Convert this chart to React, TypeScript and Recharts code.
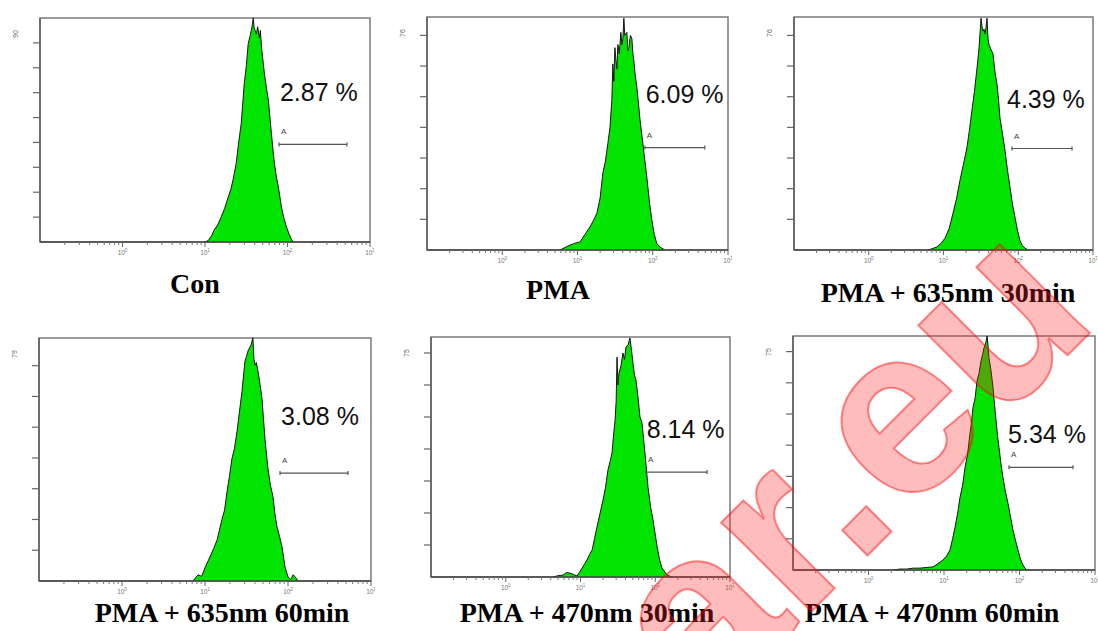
import React from "react";
import {
  ComposedChart,
  Area,
  XAxis,
  YAxis,
  ReferenceArea,
  ReferenceLine,
  ReferenceDot,
} from "recharts";

// ---------------- DATA ----------------
const titles = [
  "Con",
  "PMA",
  "PMA + 635nm 30min",
  "PMA + 635nm 60min",
  "PMA + 470nm 30min",
  "PMA + 470nm 60min",
];
const percentLabels = ["2.87 %", "6.09 %", "4.39 %", "3.08 %", "8.14 %", "5.34 %"];
const yMaxLabels = ["90", "76", "76", "79", "75", "75"];
const yMax = [90, 76, 76, 79, 75, 75];

const gateFrom = [79, 78.5, 82.4, 80.1, 75.2, 72.6];
const gateTo = [525, 492, 524, 528, 492, 511];
const gateLevel = [39.2, 33.4, 33.1, 35.1, 32.8, 32.9];
const pctX = [81, 80.5, 70.7, 82.5, 77, 70.5];
const pctY = [56.8, 47.9, 46.3, 50.7, 43.4, 40.7];

const xMajorTicks = [1, 10, 100, 1000];
const xMajorExp = ["0", "1", "2", "3"];
const xMinorMultipliers = [2, 3, 4, 5, 6, 7, 8, 9];
const xDecades = [0.1, 1, 10, 100];

// Fluorescence (x) and counts (y), one pair per panel
const conX = [9.7, 10.9, 12.0, 12.9, 14.2, 15.7, 17.3, 19.1, 20.5, 21.9, 23.9, 25.6, 27.5, 29.9, 31.6, 33.4, 35.0, 36.4, 37.6, 38.5, 39.4, 41.9, 43.5, 45.6, 46.9, 48.5, 52.5, 55.5, 58.7, 63.8, 66.5, 69.4, 73.0, 77.6, 84.5, 90.5, 97.3, 105, 112, 118];
const conY = [0, 0.5, 2.5, 4.8, 6.8, 10, 13.5, 18, 21, 25, 31.6, 40, 47.6, 63.6, 70.5, 79.6, 82.5, 85, 87.5, 90, 86, 83.6, 86.5, 82, 85, 78, 67.6, 62, 56.8, 43.6, 37.5, 31.6, 26.5, 22, 14, 9.5, 6, 3, 1, 0];

const pmaX = [5.84, 6.8, 7.93, 9.2, 10.8, 12.5, 14.6, 16.2, 18.1, 20.0, 21.7, 23.5, 25.3, 27.0, 28.6, 29.5, 30.4, 31.4, 32.4, 33.4, 34.4, 35.9, 37.7, 38.9, 40.1, 41.3, 42.5, 45.3, 46.7, 48.2, 50.5, 52.8, 54.5, 56.1, 58.5, 61.5, 64.5, 67.4, 73.9, 83.5, 90, 97.3, 105, 113, 122, 132, 145];
const pmaY = [0, 0.8, 1.6, 2.2, 2.6, 5, 7.5, 9.5, 12, 17, 25, 29, 34.7, 40, 48.7, 60.7, 55, 66, 62, 59, 67, 64, 71, 67, 69, 75.6, 70, 71, 65, 66, 70, 69, 64, 61.7, 57, 53, 48, 43, 34.7, 23.7, 16, 9.7, 5, 2.2, 1.2, 0.6, 0];

const r635m30X = [6.2, 7.2, 8.18, 9.3, 10.5, 11.9, 13.4, 15.0, 16.6, 18.5, 20.6, 22.2, 24.0, 26.0, 28.1, 29.9, 31.8, 32.7, 33.7, 34.8, 35.9, 37.0, 38.2, 39.4, 40.6, 43.0, 45.9, 48.9, 52.0, 54.5, 57.0, 61.5, 66.5, 71.8, 77.6, 83.5, 90.4, 97.5, 105, 113, 123, 135];
const r635m30Y = [0, 0.5, 1, 2.2, 3.9, 7, 12, 17, 22.7, 28, 33.4, 39, 45.5, 52, 59.4, 66, 75.6, 73, 71.4, 72, 70.5, 72.5, 75.6, 69, 67, 65.5, 64, 58, 54, 49, 43, 38, 32.5, 26, 20.5, 15, 10.7, 6.5, 3.2, 1.5, 0.6, 0];

const r635m60X = [7.17, 8.24, 9.1, 10.0, 11.5, 12.7, 14.0, 16.0, 17.2, 18.4, 19.7, 21.1, 22.6, 24.3, 26.0, 27.9, 30.3, 31.6, 33.0, 35.8, 36.8, 37.8, 38.9, 40.0, 41.6, 43.5, 46.0, 48.6, 52.8, 57.4, 61.5, 65.9, 69.5, 73.6, 79.0, 84.7, 92.0, 100, 108, 115, 121, 132];
const r635m60Y = [0, 2, 1.5, 4.3, 7.9, 10.5, 13.4, 20, 23, 28.9, 34, 39.7, 43, 48.5, 55, 61.6, 71.5, 73, 74.8, 76.7, 78, 79, 72, 70.2, 71, 68.2, 64, 59.3, 46.2, 36.4, 31, 27.5, 22, 17.7, 14.5, 11.1, 4.6, 1.3, 0.5, 2, 1.5, 0];

const b470m30X = [4.29, 5.0, 5.83, 6.5, 7.24, 8.1, 8.98, 9.7, 10.5, 11.3, 12.2, 13.2, 14.3, 15.4, 16.6, 18.3, 20.0, 21.6, 23.3, 24.8, 26.4, 27.6, 29.0, 30.0, 30.8, 31.7, 32.7, 34.8, 37.0, 38.8, 40.6, 43.2, 45.9, 48.0, 50.4, 52.8, 55.2, 58.7, 62.5, 66.5, 72.9, 80.0, 86.5, 93.3, 106, 114, 123, 144, 167];
const b470m30Y = [0, 0.4, 0.6, 1.4, 1.2, 0.8, 0.3, 1.5, 2.8, 4, 5.3, 7, 8.4, 12, 15.6, 20, 24, 28, 33.4, 36, 38.7, 44, 49, 55, 68.7, 60, 63.7, 66, 70, 68, 71.9, 72.5, 74.7, 71, 66.9, 63, 61.6, 56.3, 50, 48.1, 38.7, 28.1, 22, 17.8, 9.4, 5.5, 2.8, 0.6, 0];

const b470m60X = [2.11, 2.6, 3.24, 3.9, 4.81, 5.8, 7.15, 8.3, 9.7, 10.8, 12.0, 13.0, 14.0, 15.1, 16.3, 17.6, 19.0, 20.5, 22.1, 23.1, 24.2, 25.8, 27.4, 29.1, 30.9, 32.4, 33.9, 35.5, 37.2, 38.3, 39.4, 41.9, 44.6, 46.7, 48.9, 51.2, 53.5, 56.8, 60.4, 65.2, 70.4, 76.0, 82.0, 88.5, 95.5, 103, 111, 118, 126];
const b470m60Y = [0, 0.3, 0.3, 0.6, 0.6, 0.8, 1, 2, 3.2, 4.5, 6.4, 10, 13.7, 18, 23.3, 27, 32.9, 37, 43.8, 47, 52.1, 55, 60.7, 63, 67, 69, 71.2, 72.5, 75, 72, 68, 64, 58.5, 53, 47.9, 43, 39.3, 34, 29.7, 25, 21.4, 17, 12.8, 9.5, 6.4, 3.5, 1.6, 0.6, 0];

const seriesX = [conX, pmaX, r635m30X, r635m60X, b470m30X, b470m60X];
const seriesY = [conY, pmaY, r635m30Y, r635m60Y, b470m30Y, b470m60Y];

// ---------------- LAYOUT ----------------
const BOXES = [
  { x0: 40, x1: 370, y0: 18, y1: 242 },
  { x0: 427, x1: 728, y0: 17, y1: 250 },
  { x0: 794, x1: 1093, y0: 17, y1: 250 },
  { x0: 39, x1: 371, y0: 338, y1: 581 },
  { x0: 431, x1: 730, y0: 337, y1: 577 },
  { x0: 793, x1: 1095, y0: 336, y1: 570 },
];
const TITLE_POS = [
  { x: 195, y: 293 },
  { x: 558, y: 299 },
  { x: 948, y: 302 },
  { x: 222, y: 622 },
  { x: 587, y: 622 },
  { x: 932, y: 622 },
];
const PADL = 34;
const PADT = 4;
const PADR = 4;
const PADB = 18;

const GREEN = "#00e400";
const SANS = "'Liberation Sans', Arial, sans-serif";
const SERIF = "'Liberation Serif', 'Times New Roman', serif";

const allXTicks: number[] = [];
xDecades.forEach((d) => {
  if (d >= 1) allXTicks.push(d);
  xMinorMultipliers.forEach((m) => allXTicks.push(d * m));
});
allXTicks.push(1000);

const XTick = (props: any) => {
  const { x, y, payload } = props;
  const idx = xMajorTicks.indexOf(payload.value);
  if (idx >= 0) {
    return (
      <g>
        <line x1={x} x2={x} y1={y} y2={y + 5} stroke="#666" strokeWidth={1} />
        <text x={x} y={y + 13} textAnchor="middle" fontSize={6.5} fill="#777" fontFamily={SANS}>
          10
          <tspan dy={-3} fontSize={4.5}>
            {xMajorExp[idx]}
          </tspan>
        </text>
      </g>
    );
  }
  return <line x1={x} x2={x} y1={y} y2={y + 3} stroke="#777" strokeWidth={1} />;
};

function Panel({ i }: { i: number }) {
  const b = BOXES[i];
  const width = b.x1 - b.x0 + PADL + PADR;
  const height = b.y1 - b.y0 + PADT + PADB;
  const data = seriesX[i].map((x, k) => ({ x, y: seriesY[i][k] }));
  const top = yMax[i];
  const yTicks: number[] = [];
  for (let t = 10; t < top - 2; t += 10) yTicks.push(t);
  yTicks.push(top);

  const YTick = (props: any) => {
    const { x, y, payload } = props;
    if (payload.value === top) {
      return (
        <text
          x={x - 25}
          y={y + 16}
          transform={`rotate(-90 ${x - 25} ${y + 16})`}
          textAnchor="middle"
          dominantBaseline="central"
          fontSize={7}
          fill="#666"
          fontFamily={SANS}
        >
          {yMaxLabels[i]}
        </text>
      );
    }
    return <line x1={x - 7} x2={x} y1={y} y2={y} stroke="#666" strokeWidth={1.2} />;
  };

  return (
    <div style={{ position: "absolute", left: b.x0 - PADL, top: b.y0 - PADT }}>
      <ComposedChart
        width={width}
        height={height}
        data={data}
        margin={{ top: PADT, right: PADR, left: 0, bottom: 0 }}
      >
        <XAxis
          dataKey="x"
          type="number"
          scale="log"
          domain={[0.1, 1000]}
          allowDataOverflow
          ticks={allXTicks}
          interval={0}
          tick={<XTick />}
          tickLine={false}
          tickSize={0}
          tickMargin={0}
          height={PADB}
          axisLine={{ stroke: "#444", strokeWidth: 1.3 }}
        />
        <YAxis
          type="number"
          domain={[0, top]}
          allowDataOverflow
          ticks={yTicks}
          interval={0}
          tick={<YTick />}
          tickLine={false}
          tickSize={0}
          tickMargin={0}
          width={PADL}
          axisLine={{ stroke: "#555", strokeWidth: 1.3 }}
        />
        <ReferenceArea
          x1={0.1}
          x2={1000}
          y1={0}
          y2={top}
          fill="none"
          fillOpacity={0}
          stroke="#7a7a7a"
          strokeWidth={1.5}
          ifOverflow="visible"
        />
        <Area
          dataKey="y"
          type="linear"
          stroke="#141414"
          strokeWidth={1}
          fill={GREEN}
          fillOpacity={1}
          isAnimationActive={false}
          dot={false}
          activeDot={false}
        />
        <ReferenceLine
          segment={[
            { x: gateFrom[i], y: gateLevel[i] },
            { x: gateTo[i], y: gateLevel[i] },
          ]}
          stroke="#555"
          strokeWidth={1.2}
          ifOverflow="visible"
        />
        <ReferenceDot
          x={gateFrom[i]}
          y={gateLevel[i]}
          ifOverflow="visible"
          shape={(p: any) => (
            <g>
              <line x1={p.cx} x2={p.cx} y1={p.cy - 2} y2={p.cy + 2} stroke="#555" strokeWidth={1.2} />
              <text x={p.cx + 2} y={p.cy - 10} fontSize={8} fill="#444" fontFamily={SANS}>
                A
              </text>
            </g>
          )}
        />
        <ReferenceDot
          x={gateTo[i]}
          y={gateLevel[i]}
          ifOverflow="visible"
          shape={(p: any) => (
            <line x1={p.cx} x2={p.cx} y1={p.cy - 2} y2={p.cy + 2} stroke="#555" strokeWidth={1.2} />
          )}
        />
        <ReferenceDot
          x={pctX[i]}
          y={pctY[i]}
          ifOverflow="visible"
          shape={(p: any) => (
            <text x={p.cx} y={p.cy} fontSize={25} fill="#111" fontFamily={SANS}>
              {percentLabels[i]}
            </text>
          )}
        />
      </ComposedChart>
    </div>
  );
}

export default function App() {
  return (
    <div
      style={{
        position: "absolute",
        left: 0,
        top: 0,
        width: 1098,
        height: 631,
        background: "#fff",
        overflow: "hidden",
      }}
    >
      {titles.map((_, i) => (
        <Panel key={i} i={i} />
      ))}
      <svg
        width={1098}
        height={631}
        style={{ position: "absolute", left: 0, top: 0, pointerEvents: "none" }}
      >
        {titles.map((t, i) => (
          <text
            key={t}
            x={TITLE_POS[i].x}
            y={TITLE_POS[i].y}
            textAnchor="middle"
            fontSize={28}
            fontWeight="bold"
            fontFamily={SERIF}
            fill="#000"
          >
            {t}
          </text>
        ))}
        <text
          x={705}
          y={718}
          transform="rotate(-45 705 718)"
          fontSize={240}
          fontWeight="bold"
          fontFamily={SANS}
          fill="#ff2020"
          fillOpacity={0.3}
          stroke="#ff0000"
          strokeOpacity={0.45}
          strokeWidth={2}
        >
          ar.eu
        </text>
      </svg>
    </div>
  );
}
